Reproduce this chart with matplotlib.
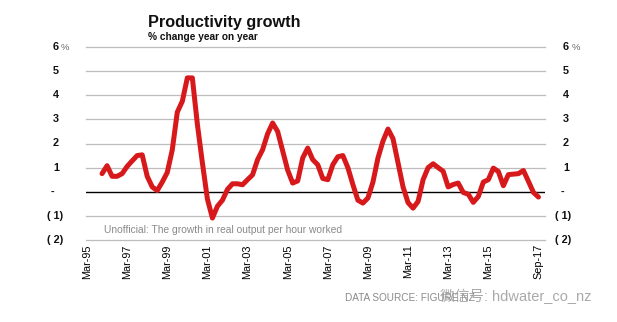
import numpy as np
import pandas as pd
import matplotlib
matplotlib.use("Agg")
import matplotlib.pyplot as plt
import matplotlib.transforms as mtransforms

plt.rcParams['font.family'] = ['Liberation Sans', 'Noto Sans CJK SC', 'DejaVu Sans']

# quarterly productivity growth, % change year on year, Dec-95 .. Sep-17
quarters = pd.period_range("1995Q4", "2017Q3", freq="Q")
growth = [
    0.75, 1.08, 0.64, 0.64, 0.75, 1.05, 1.28, 1.50, 1.53, 0.64,
    0.20, 0.05, 0.40, 0.80, 1.74, 3.30, 3.75, 4.72, 4.72, 2.80,
    1.20, -0.30, -1.09, -0.60, -0.35, 0.10, 0.33, 0.33, 0.29, 0.50,
    0.70, 1.33, 1.74, 2.40, 2.85, 2.50, 1.70, 0.90, 0.36, 0.45,
    1.40, 1.81, 1.33, 1.12, 0.55, 0.50, 1.12, 1.45, 1.50, 1.00,
    0.30, -0.35, -0.47, -0.26, 0.40, 1.40, 2.10, 2.60, 2.20, 1.20,
    0.20, -0.45, -0.68, -0.40, 0.50, 1.00, 1.16, 1.00, 0.85, 0.20,
    0.30, 0.36, -0.03, -0.10, -0.44, -0.20, 0.40, 0.50, 0.98, 0.84,
    0.25, 0.71, 0.73, 0.75, 0.88, 0.43, -0.03, -0.22,
]

tick_labels = ["Mar-95", "Mar-97", "Mar-99", "Mar-01", "Mar-03", "Mar-05",
               "Mar-07", "Mar-09", "Mar-11", "Mar-13", "Mar-15", "Sep-17"]
y_values = [6, 5, 4, 3, 2, 1, 0, -1, -2]
y_labels = ["6", "5", "4", "3", "2", "1", "-", "( 1)", "( 2)"]

# quarter index counted from Mar-95
start = pd.Period("1995Q1", freq="Q")
x = np.array([(q - start).n for q in quarters])
tick_pos = [(pd.Period(pd.to_datetime(t, format="%b-%y"), freq="Q") - start).n
            for t in tick_labels]

fig = plt.figure(figsize=(6.17, 3.22), dpi=100)
ax = fig.add_axes([86 / 617, 82 / 322, 459 / 617, 193 / 322])

for v in y_values:
    if v == 0:
        ax.axhline(v, color="black", lw=1.0, zorder=1)
    else:
        ax.axhline(v, color="#bdbdbd", lw=0.9, zorder=1, clip_on=False)

ax.plot(x, growth, color="#d7191c", lw=3.6, solid_joinstyle="round",
        solid_capstyle="round", zorder=3)

ax.set_xlim(-0.2, 91.3)
ax.set_ylim(-2, 6)
ax.set_yticks([])
ax.set_xticks(tick_pos)
ax.set_xticklabels(tick_labels, rotation=90, fontsize=7.8)
ax.tick_params(axis="x", length=0, pad=3)
for s in ax.spines.values():
    s.set_visible(False)

# y labels both sides
trans = mtransforms.blended_transform_factory(fig.transFigure, ax.transData)
for v, lab in zip(y_values, y_labels):
    xl = 52 / 617 if lab == "-" else (55 / 617 if lab.startswith("(") else 56 / 617)
    xr = 562 / 617 if lab == "-" else (563 / 617 if lab.startswith("(") else 566 / 617)
    ax.text(xl, v, lab, transform=trans, ha="center", va="center",
            fontsize=7.8, fontweight="bold", color="#111111")
    ax.text(xr, v, lab, transform=trans, ha="center", va="center",
            fontsize=7.8, fontweight="bold", color="#111111")
ax.text(65 / 617, 6, "%", transform=trans, ha="center", va="center",
        fontsize=6.8, color="#666666")
ax.text(576 / 617, 6, "%", transform=trans, ha="center", va="center",
        fontsize=6.8, color="#666666")

fig.text(148 / 617, 1 - 22 / 322, "Productivity growth", fontsize=11.7,
         fontweight="bold", va="center", ha="left", color="#111111")
fig.text(148 / 617, 1 - 37 / 322, "% change year on year", fontsize=7.3,
         fontweight="bold", va="center", ha="left", color="#111111")

ax.text(104 / 617, -1.58, "Unofficial: The growth in real output per hour worked",
        transform=trans, fontsize=7.4, color="#8a8a8a", va="center", ha="left")

fig.text(345 / 617, 1 - 298 / 322, "DATA SOURCE: FIGURE.NZ", fontsize=7.2,
         color="#8a8a8a", va="center", ha="left")
fig.text(440 / 617, 1 - 296 / 322, "微信号: hdwater_co_nz", fontsize=10.5,
         color="#9a9a9a", va="center", ha="left", alpha=0.85)

fig.savefig("out.png", dpi=100, facecolor="white")
